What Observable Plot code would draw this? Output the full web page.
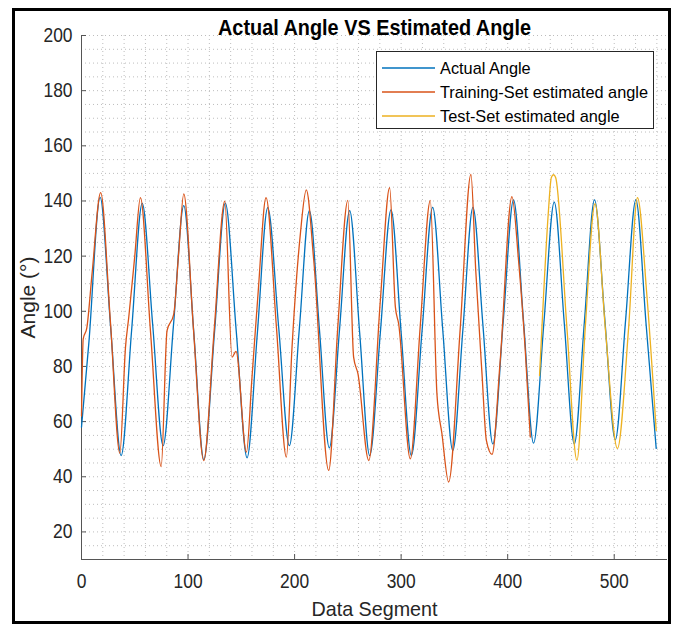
<!DOCTYPE html>
<html><head><meta charset="utf-8">
<script src="https://cdn.jsdelivr.net/npm/d3@7"></script>
<script src="https://cdn.jsdelivr.net/npm/@observablehq/plot@0.6"></script>
<style>body{margin:0;background:#fff}</style>
</head><body><div id="chart"></div>
<script>
const FONT = '"Liberation Sans",Arial,sans-serif';

const actualX = [0,7,17.5,27.3,37.2,47.1,57,66.8,76.6,86.3,96,105.4,114.8,124.9,135,145.2,155.4,165.1,174.8,185,195.1,204.5,213.9,223.3,232.6,242.2,251.7,261.1,270.5,280.5,290.5,300,309.6,319.6,329.6,339,348.5,358,367.4,376.8,386.1,395.8,405.5,414.9,424.3,434,443.7,453.1,462.5,472,481.5,491.2,501,510.7,520.3,529.9,539.4];
const actualY = [58,89,141.3,94.5,47.7,93.4,139.1,95.2,51.3,94.8,138.3,92.3,46.2,92.7,139.2,93,46.9,92.3,137.6,94.5,51.3,93.9,136.5,93.5,50.5,93.5,136.5,92.1,47.7,92.3,136.8,92.3,47.7,92.7,137.7,93.6,49.5,93.6,137.7,94.8,51.9,96.2,140.4,96.3,52.2,95.9,139.6,95.8,51.9,96.2,140.4,96.9,53.4,96.9,140.4,95.4,50.3];

const trainX = [0,1.6,5,10,18,27,36,41.3,44.4,50,55.3,64.7,74.8,80.3,86.6,91,96,105,114.7,124.5,134.5,141.3,145,154.8,160,166,173.2,183,192.3,197.6,205.4,211,218,232,240.5,250,255.4,259.5,269.6,280.5,289.2,294.6,297.7,308.6,318,327.4,333.6,338.3,344.6,355.5,365.5,370,375.9,380,385.3,393,404,410.2,416.5,421.2];
const trainY = [62,90,94,114,143,97,48.6,87,98,120,141.2,93,43.7,93,99,120,142.6,94,45.9,93,139.9,83.4,85.5,48.9,76,108,141.2,94,47.1,87,128,144,118.4,42.3,94,140.2,83.4,77.3,45.9,104,144.8,101.5,95.4,46.5,95,140.2,70,55.6,38.1,94,149.6,115,77.3,53.2,48.1,82.2,141.6,118.4,85.8,54.4];

const testX = [429.9,433.7,438,441,443,445,455.6,465,472.8,482,491.6,503,513.5,521.8,530.6,539.4];
const testY = [76.7,106,135,148.5,149.5,148.5,94,46,94,139,94,50.3,94,141.2,106,56.8];

const xTicks = [0,100,200,300,400,500];
const yTicks = [20,40,60,80,100,120,140,160,180,200];
const seriesNames = ["Actual Angle","Training-Set estimated angle","Test-Set estimated angle"];
const seriesColors = ["#0072BD","#D95319","#EDB120"];
const titleText = "Actual Angle VS Estimated Angle";
const xLabel = "Data Segment";
const yLabel = "Angle (°)";

const toRows = (xs, ys) => xs.map((x, i) => ({x, y: ys[i]}));
const actual = toRows(actualX, actualY);
const train = toRows(trainX, trainY);
const test = toRows(testX, testY);

const yMinor = d3.range(10, 201, 5);
const xMinor = d3.range(0, 551, 20);

const chart = Plot.plot({
  width: 675, height: 626,
  marginLeft: 81, marginRight: 8, marginTop: 35, marginBottom: 67,
  x: {domain: [0, 550]},
  y: {domain: [10, 200]},
  style: {fontFamily: FONT, background: "white", color: "#262626"},
  marks: [
    Plot.gridY({ticks: yMinor, stroke: "#bdbdbd", strokeOpacity: 1, strokeDasharray: "1,3"}),
    Plot.gridX({ticks: xMinor, stroke: "#bdbdbd", strokeOpacity: 1, strokeDasharray: "1,3"}),
    Plot.ruleX([0], {stroke: "#555"}),
    Plot.ruleY([10], {stroke: "#555"}),
    Plot.axisY({ticks: yTicks, tickSize: 0, tickPadding: 9, fontSize: 20, label: null, className: "ticklab"}),
    Plot.axisY({ticks: yTicks, tickSize: 5, dx: 5, tickFormat: () => "", label: null, stroke: "#555"}),
    Plot.axisX({ticks: xTicks, tickSize: 0, tickPadding: 14, fontSize: 20, label: null, className: "ticklab"}),
    Plot.axisX({ticks: xTicks, tickSize: 5, dy: -5, tickFormat: () => "", label: null, stroke: "#555"}),
    Plot.line(actual, {x: "x", y: "y", stroke: seriesColors[0], strokeWidth: 1.3, curve: "monotone-x"}),
    Plot.line(train, {x: "x", y: "y", stroke: seriesColors[1], strokeWidth: 1.3, curve: "monotone-x"}),
    Plot.line(test, {x: "x", y: "y", stroke: seriesColors[2], strokeWidth: 1.3, curve: "monotone-x"}),
    Plot.text([xLabel], {text: d => d, frameAnchor: "bottom", dy: 50, fontSize: 21, lineAnchor: "middle", fill: "#262626", className: "xlab"}),
    Plot.text([yLabel], {text: d => d, frameAnchor: "left", textAnchor: "middle", rotate: -90, dx: -53, fontSize: 21, lineAnchor: "middle", fill: "#262626"}),
    Plot.text([titleText], {text: d => d, frameAnchor: "top", dy: -8, fontSize: 22, fontWeight: "bold", lineAnchor: "middle", fill: "#000", className: "ttl"})
  ]
});

document.getElementById("chart").append(chart);

const svg = d3.select(chart);
// squeeze text horizontally like the reference's narrow rendering
function squeeze(sel, f) {
  sel.each(function() {
    const w = this.getComputedTextLength();
    if (w > 0) {
      this.setAttribute("textLength", (w * f).toFixed(1));
      this.setAttribute("lengthAdjust", "spacingAndGlyphs");
    }
  });
}
squeeze(svg.selectAll("g.ticklab text"), 0.87);
svg.selectAll("g.ttl text").each(function() {
  this.setAttribute("textLength", 313);
  this.setAttribute("lengthAdjust", "spacingAndGlyphs");
});
svg.selectAll("g.xlab text").each(function() {
  this.setAttribute("textLength", 126);
  this.setAttribute("lengthAdjust", "spacingAndGlyphs");
});

// outer figure frame
svg.append("rect").attr("x", 13.5).attr("y", 9.5).attr("width", 656).attr("height", 613)
  .attr("fill", "none").attr("stroke", "#000").attr("stroke-width", 3);
// legend
const lg = svg.append("g").attr("font-family", FONT).attr("font-size", 17).attr("text-anchor", "start");
lg.append("rect").attr("x", 376.5).attr("y", 51.5).attr("width", 277).attr("height", 77)
  .attr("fill", "white").attr("stroke", "#262626").attr("stroke-width", 1);
seriesNames.forEach((name, i) => {
  const yy = 68 + i * 24;
  lg.append("line").attr("x1", 382).attr("x2", 435).attr("y1", yy).attr("y2", yy)
    .attr("stroke", seriesColors[i]).attr("stroke-width", 1.3);
  lg.append("text").attr("x", 440).attr("y", yy).attr("dy", "0.35em").attr("fill", "#000").text(name);
});
squeeze(lg.selectAll("text"), 0.96);
</script>
</body></html>
